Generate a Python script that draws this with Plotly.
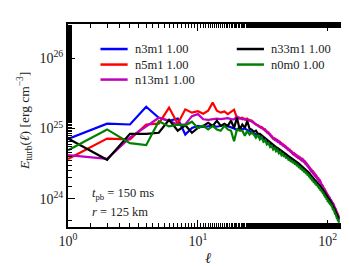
import plotly.graph_objects as go

# spectrum values in units of 1e25 erg cm^-3, one per multipole ell = 1..122
ell = list(range(1, 123))
UNIT = 1e25

n3m1 = [0.71, 1.17, 1.14, 2.04, 1.42, 1.29, 1.38, 0.82, 1.02, 1.09, 1.05, 1.08, 1.10, 1.06, 1.10, 1.12, 1.08, 1.05, 1.00, 0.95,
        1.05, 0.97, 1.00, 0.95, 0.92, 0.88, 0.85, 0.82, 0.79, 0.76,
        0.73, 0.71, 0.66, 0.65, 0.61, 0.60, 0.555, 0.55, 0.52, 0.52, 0.49, 0.49, 0.46, 0.46, 0.435, 0.435, 0.41, 0.41, 0.386, 0.386,
        0.365, 0.367, 0.35, 0.352, 0.334, 0.336, 0.319, 0.32, 0.302, 0.303, 0.286, 0.287, 0.272, 0.274, 0.26, 0.261, 0.247, 0.248, 0.235, 0.236,
        0.222, 0.223, 0.208, 0.208, 0.197, 0.197, 0.186, 0.186, 0.176, 0.177, 0.168, 0.168, 0.16, 0.16, 0.152, 0.152, 0.144, 0.143, 0.136, 0.136,
        0.129, 0.128, 0.122, 0.121, 0.115, 0.114, 0.108, 0.107, 0.101, 0.100, 0.096, 0.096, 0.091, 0.091, 0.087, 0.086, 0.083, 0.081, 0.077, 0.076,
        0.072, 0.071, 0.067, 0.066, 0.062, 0.061, 0.058, 0.057, 0.054, 0.053, 0.050, 0.050]

n5m1 = [0.37, 0.72, 0.70, 1.14, 1.17, 1.98, 1.17, 1.87, 1.68, 1.76, 1.62, 1.79, 2.33, 1.79, 1.68, 1.75, 1.60, 1.70, 1.85, 1.42,
        1.38, 1.42, 1.33, 1.38, 1.29, 1.29, 1.20, 1.14, 1.11, 1.06,
        1.05, 0.97, 0.97, 0.88, 0.88, 0.80, 0.785, 0.715, 0.725, 0.675, 0.685, 0.637, 0.643, 0.598, 0.602, 0.563, 0.566, 0.529, 0.53, 0.495,
        0.50, 0.466, 0.469, 0.436, 0.444, 0.417, 0.423, 0.397, 0.403, 0.382, 0.388, 0.363, 0.372, 0.353, 0.357, 0.333, 0.337, 0.314, 0.316, 0.294,
        0.296, 0.274, 0.275, 0.255, 0.258, 0.241, 0.244, 0.227, 0.23, 0.215, 0.217, 0.203, 0.205, 0.191, 0.193, 0.179, 0.182, 0.169, 0.168, 0.155,
        0.156, 0.145, 0.146, 0.135, 0.136, 0.125, 0.126, 0.118, 0.118, 0.110, 0.111, 0.104, 0.105, 0.098, 0.099, 0.092, 0.094, 0.087, 0.089, 0.082,
        0.083, 0.077, 0.078, 0.072, 0.072, 0.067, 0.067, 0.062, 0.062, 0.058, 0.058, 0.054]

n13m1 = [0.42, 0.37, 0.74, 1.06, 1.42, 1.29, 1.14, 1.14, 1.50, 1.60, 1.35, 1.33, 1.35, 1.38, 1.36, 1.38, 1.40, 1.36, 1.35, 1.48,
         1.42, 1.35, 1.38, 1.30, 1.32, 1.25, 1.22, 1.15, 1.10, 1.05,
         1.01, 1.00, 0.93, 0.91, 0.84, 0.83, 0.75, 0.74, 0.69, 0.70, 0.65, 0.66, 0.61, 0.62, 0.575, 0.58, 0.54, 0.545, 0.505, 0.51,
         0.477, 0.48, 0.448, 0.45, 0.423, 0.43, 0.404, 0.41, 0.384, 0.394, 0.37, 0.374, 0.355, 0.364, 0.34, 0.344, 0.321, 0.324, 0.301, 0.303,
         0.282, 0.283, 0.262, 0.263, 0.246, 0.249, 0.232, 0.235, 0.219, 0.221, 0.207, 0.209, 0.195, 0.197, 0.184, 0.185, 0.173, 0.174, 0.16, 0.16,
         0.149, 0.15, 0.139, 0.139, 0.129, 0.129, 0.12, 0.121, 0.113, 0.113, 0.106, 0.107, 0.10, 0.101, 0.094, 0.095, 0.089, 0.09, 0.084, 0.085,
         0.079, 0.08, 0.074, 0.074, 0.069, 0.069, 0.064, 0.064, 0.059, 0.06, 0.055, 0.056]

n33m1 = [0.72, 0.36, 0.84, 0.84, 0.87, 1.33, 0.93, 1.11, 0.87, 1.02, 1.09, 1.20, 1.09, 1.29, 1.09, 1.17, 1.09, 1.29, 1.02, 1.42,
         0.97, 1.14, 1.02, 1.28, 0.99, 0.96, 0.90, 0.93, 0.84, 0.84,
         0.80, 0.76, 0.72, 0.69, 0.665, 0.63, 0.605, 0.58, 0.565, 0.545, 0.53, 0.515, 0.495, 0.485, 0.468, 0.455, 0.44, 0.43, 0.415, 0.405,
         0.393, 0.385, 0.376, 0.369, 0.36, 0.352, 0.343, 0.335, 0.326, 0.317, 0.308, 0.30, 0.293, 0.286, 0.279, 0.273, 0.266, 0.26, 0.253, 0.246,
         0.24, 0.233, 0.224, 0.218, 0.212, 0.206, 0.20, 0.195, 0.189, 0.185, 0.18, 0.176, 0.172, 0.167, 0.163, 0.158, 0.154, 0.15, 0.145, 0.142,
         0.138, 0.134, 0.13, 0.127, 0.122, 0.119, 0.114, 0.111, 0.108, 0.105, 0.102, 0.10, 0.097, 0.095, 0.092, 0.09, 0.088, 0.085, 0.081, 0.079,
         0.077, 0.074, 0.072, 0.069, 0.066, 0.064, 0.062, 0.059, 0.057, 0.055, 0.054, 0.052]

n0m0 = [0.49, 0.97, 0.62, 0.58, 1.27, 1.07, 1.13, 1.11, 1.25, 1.02, 1.09, 0.97, 1.09, 0.97, 0.93, 1.09, 0.97, 0.93, 0.66, 0.97,
        0.93, 0.93, 0.79, 0.93, 0.82, 0.87, 0.82, 0.74, 0.81, 0.70,
        0.75, 0.65, 0.68, 0.595, 0.625, 0.547, 0.567, 0.504, 0.53, 0.475, 0.50, 0.446, 0.468, 0.42, 0.442, 0.396, 0.416, 0.374, 0.393, 0.352,
        0.371, 0.335, 0.356, 0.322, 0.34, 0.307, 0.324, 0.292, 0.308, 0.276, 0.291, 0.262, 0.277, 0.25, 0.264, 0.238, 0.252, 0.227, 0.239, 0.215,
        0.227, 0.204, 0.212, 0.19, 0.201, 0.18, 0.189, 0.17, 0.179, 0.161, 0.171, 0.154, 0.162, 0.146, 0.154, 0.138, 0.146, 0.131, 0.137, 0.124,
        0.13, 0.117, 0.123, 0.11, 0.115, 0.104, 0.108, 0.097, 0.102, 0.091, 0.097, 0.087, 0.092, 0.083, 0.087, 0.079, 0.083, 0.074, 0.077, 0.069,
        0.073, 0.064, 0.068, 0.06, 0.062, 0.056, 0.058, 0.052, 0.054, 0.048, 0.051, 0.046]

labels = ["n3m1 1.00", "n5m1 1.00", "n13m1 1.00", "n33m1 1.00", "n0m0 1.00"]
series = [n3m1, n5m1, n13m1, n33m1, n0m0]
colors = ["#0000ff", "#ff0000", "#bf00bf", "#000000", "#008000"]

x_ticks = [1, 10, 100]
x_ticktext = ["10<sup>0</sup>", "10<sup>1</sup>", "10<sup>2</sup>"]
y_ticks = [1e24, 1e25, 1e26]
y_ticktext = ["10<sup>24</sup>", "10<sup>25</sup>", "10<sup>26</sup>"]

FONT = "Liberation Serif"
TXT = "#222"

fig = go.Figure()
for lab, vals, col in zip(labels, series, colors):
    fig.add_trace(go.Scatter(
        x=ell, y=[v * UNIT for v in vals], mode="lines", name=lab,
        line=dict(color=col, width=2.2), showlegend=False))

# manual two-column legend (matches the reference's compact layout)
leg_pos = [(0.116, 0.8767), (0.116, 0.8002), (0.116, 0.7262), (0.6028, 0.8767), (0.6028, 0.8002)]
for (lx, ly), lab, col in zip(leg_pos, labels, colors):
    fig.add_shape(type="line", xref="paper", yref="paper", x0=lx, x1=lx + 0.097, y0=ly, y1=ly,
                  line=dict(color=col, width=2.5))
    fig.add_annotation(xref="paper", yref="paper", x=lx + 0.115, y=ly, text=lab, showarrow=False,
                       xanchor="left", yanchor="middle", font=dict(family=FONT, size=12.5, color=TXT))

fig.add_annotation(xref="paper", yref="paper", x=0.08, y=0.163, text="<i>t</i><sub>pb</sub> = 150 ms",
                   showarrow=False, xanchor="left", yanchor="middle", font=dict(family=FONT, size=12.5, color=TXT))
fig.add_annotation(xref="paper", yref="paper", x=0.08, y=0.074, text="<i>r</i> = 125 km",
                   showarrow=False, xanchor="left", yanchor="middle", font=dict(family=FONT, size=12.5, color=TXT))

# axis titles as annotations for exact placement
fig.add_annotation(xref="paper", yref="paper", x=0.5, y=-0.155, text="<i>ℓ</i>", showarrow=False,
                   xanchor="center", yanchor="middle", font=dict(family=FONT, size=15, color=TXT))
fig.add_annotation(xref="paper", yref="paper", x=-0.155, y=0.52,
                   text="<i>E</i><sub>turb</sub>(<i>ℓ</i>) [erg cm<sup>−3</sup>]", textangle=-90,
                   showarrow=False, xanchor="center", yanchor="middle", font=dict(family=FONT, size=13.5, color=TXT))

axis_common = dict(
    showline=True, linecolor="black", linewidth=2, mirror="allticks",
    ticks="inside", ticklen=7, tickwidth=1, tickcolor="black",
    showgrid=False, zeroline=False,
    minor=dict(ticks="inside", ticklen=4, tickwidth=1, tickcolor="black", showgrid=False),
    tickfont=dict(family=FONT, size=14, color=TXT),
)

fig.update_xaxes(type="log", range=[0, 2.156], tickvals=x_ticks, ticktext=x_ticktext, **axis_common)
fig.update_yaxes(type="log", range=[23.602, 26.483], tickvals=y_ticks, ticktext=y_ticktext, **axis_common)

fig.update_layout(
    width=349, height=266,
    margin=dict(l=60, r=7, t=16, b=47),
    paper_bgcolor="white", plot_bgcolor="white",
    font=dict(family=FONT, color=TXT),
    showlegend=False,
)

fig.write_html("out.html")
